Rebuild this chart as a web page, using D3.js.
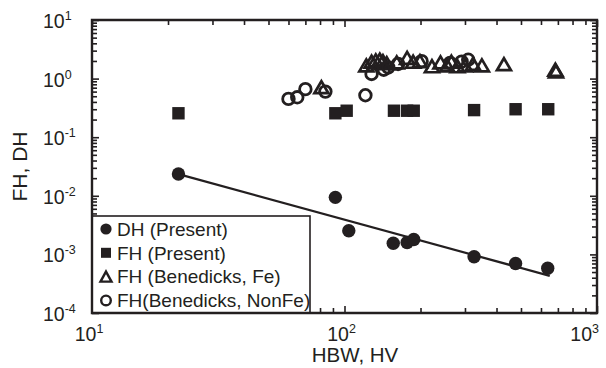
<!DOCTYPE html>
<html>
<head>
<meta charset="utf-8">
<script src="https://cdn.jsdelivr.net/npm/d3@7"></script>
<style>
  body { margin: 0; background: #fff; }
  svg { font-family: "Liberation Sans", Arial, sans-serif; }
</style>
</head>
<body>
<svg id="chart" width="606" height="368"></svg>
<script>
// Hardness (HBW, HV) vs FH / DH, log-log

// --- Data ---
const dhHBW = [22, 92, 104, 156, 177, 188, 326, 476, 638];
const dhVal = [0.0236, 0.0094, 0.00254, 0.00155, 0.0016, 0.0018, 0.00091, 0.0007, 0.00058];

const fhHBW = [22, 92, 102, 157, 177, 188, 326, 476, 641];
const fhVal = [0.256, 0.256, 0.283, 0.283, 0.283, 0.283, 0.29, 0.30, 0.30];

const feHBW = [81, 122, 128, 133, 138, 142, 147, 161, 177, 187, 199, 222, 240, 255, 265, 280, 300, 323, 350, 428, 684, 688];
const feVal = [0.68, 1.6, 1.85, 1.95, 2.0, 1.9, 1.75, 1.8, 2.15, 1.85, 1.9, 1.55, 1.8, 1.6, 1.85, 1.55, 1.6, 1.7, 1.6, 1.68, 1.35, 1.27];

const nonFeHBW = [60, 65, 70, 84, 121, 128, 143, 149, 163, 202, 262, 291, 309];
const nonFeVal = [0.45, 0.48, 0.66, 0.6, 0.52, 1.2, 1.42, 1.55, 1.78, 1.98, 1.85, 1.95, 2.1];

// power-law fit through DH (Present)
const fitHBW = [22, 650];
const fitVal = [0.0234, 0.00043];

const xMajor = [10, 100, 1000];
const yMajor = [10, 1, 0.1, 0.01, 0.001, 0.0001];
const xLabels = ["1", "2", "3"];
const yLabels = ["1", "0", "-1", "-2", "-3", "-4"];

const legendLabels = ["DH (Present)", "FH (Present)", "FH (Benedicks, Fe)", "FH(Benedicks, NonFe)"];

// --- Setup ---
const ink = "#231f20";
const svg = d3.select("#chart");
const pLeft = 92, pRight = 597, pTop = 20, pBottom = 313;

const x = d3.scaleLog().domain([10, 1000]).range([pLeft, pRight]);
const y = d3.scaleLog().domain([0.0001, 10]).range([pBottom, pTop]);

// minor ticks: every integer multiple inside each decade
function minorTicks(lo, hi) {
  const out = [];
  for (let d = lo; d < hi; d *= 10) {
    for (let k = 2; k <= 9; k++) out.push(d * k);
  }
  return out;
}
const xMinor = minorTicks(10, 1000);
const yMinor = minorTicks(0.0001, 10);

function tickAxis(axisFn, scale, values, size, transform) {
  const g = svg.append("g")
    .attr("transform", transform)
    .call(axisFn(scale).tickValues(values).tickSize(-size).tickFormat("").tickSizeOuter(0));
  g.select(".domain").remove();
  g.selectAll(".tick line").attr("stroke", ink).attr("stroke-width", 1.6);
}

tickAxis(d3.axisBottom, x, xMinor, 5, `translate(0,${pBottom})`);
tickAxis(d3.axisBottom, x, xMajor, 7, `translate(0,${pBottom})`);
tickAxis(d3.axisTop, x, xMinor, 5, `translate(0,${pTop})`);
tickAxis(d3.axisTop, x, xMajor, 7, `translate(0,${pTop})`);
tickAxis(d3.axisLeft, y, yMinor, 5, `translate(${pLeft},0)`);
tickAxis(d3.axisLeft, y, yMajor, 7, `translate(${pLeft},0)`);
tickAxis(d3.axisRight, y, yMinor, 5, `translate(${pRight},0)`);
tickAxis(d3.axisRight, y, yMajor, 7, `translate(${pRight},0)`);

// --- Marks ---
const plot = svg.append("g");

function triPath(cx, cy, w, h) {
  return `M${cx},${cy - h * 0.6}L${cx + w / 2},${cy + h * 0.4}L${cx - w / 2},${cy + h * 0.4}Z`;
}

plot.selectAll(".fe").data(d3.zip(feHBW, feVal)).enter().append("path")
  .attr("class", "fe")
  .attr("d", d => triPath(x(d[0]), y(d[1]), 14, 12))
  .attr("fill", "none").attr("stroke", ink).attr("stroke-width", 2.7)
  .attr("stroke-linejoin", "miter");

plot.selectAll(".nonfe").data(d3.zip(nonFeHBW, nonFeVal)).enter().append("circle")
  .attr("class", "nonfe")
  .attr("cx", d => x(d[0])).attr("cy", d => y(d[1])).attr("r", 5.8)
  .attr("fill", "none").attr("stroke", ink).attr("stroke-width", 2.8);

plot.selectAll(".fh").data(d3.zip(fhHBW, fhVal)).enter().append("rect")
  .attr("class", "fh")
  .attr("x", d => x(d[0]) - 6.2).attr("y", d => y(d[1]) - 6.2)
  .attr("width", 12.4).attr("height", 12.4)
  .attr("fill", ink);

plot.append("path")
  .datum(d3.zip(fitHBW, fitVal))
  .attr("d", d3.line().x(d => x(d[0])).y(d => y(d[1])))
  .attr("fill", "none").attr("stroke", ink).attr("stroke-width", 2.2);

plot.selectAll(".dh").data(d3.zip(dhHBW, dhVal)).enter().append("circle")
  .attr("class", "dh")
  .attr("cx", d => x(d[0])).attr("cy", d => y(d[1])).attr("r", 6.7)
  .attr("fill", ink);

// --- Legend ---
const lg = svg.append("g");
lg.append("rect")
  .attr("x", pLeft).attr("y", 216).attr("width", 218).attr("height", pBottom - 216)
  .attr("fill", "#fff").attr("stroke", ink).attr("stroke-width", 1.6);

const rowY = i => 229 + i * 23.8;
const mx = 106;
lg.append("circle").attr("cx", mx).attr("cy", rowY(0)).attr("r", 5.6).attr("fill", ink);
lg.append("rect").attr("x", mx - 5).attr("y", rowY(1) - 5).attr("width", 10).attr("height", 10).attr("fill", ink);
lg.append("path").attr("d", triPath(mx, rowY(2) + 1, 11, 10))
  .attr("fill", "none").attr("stroke", ink).attr("stroke-width", 2.4);
lg.append("circle").attr("cx", mx).attr("cy", rowY(3)).attr("r", 4.8)
  .attr("fill", "none").attr("stroke", ink).attr("stroke-width", 2.4);

lg.selectAll("text").data(legendLabels).enter().append("text")
  .attr("x", 117).attr("y", (d, i) => rowY(i) + 6.8)
  .attr("font-size", 19).attr("fill", ink)
  .text(d => d);

// --- Frame ---
svg.append("path")
  .attr("d", `M${pLeft},${pTop}H${pRight}V${pBottom}H${pLeft}Z`)
  .attr("fill", "none").attr("stroke", ink).attr("stroke-width", 2.4);

// --- Tick labels ---
function powLabel(g, base, exp) {
  g.append("tspan").text(base);
  g.append("tspan").attr("font-size", 12.5).attr("dy", -8).text(exp);
}

xMajor.forEach((v, i) => {
  const last = i === xMajor.length - 1;
  const t = svg.append("text")
    .attr("x", last ? 599 : x(v) - 3).attr("y", 340.5)
    .attr("text-anchor", last ? "end" : "middle")
    .attr("font-size", 19.5).attr("fill", ink);
  powLabel(t, "10", xLabels[i]);
});

yMajor.forEach((v, i) => {
  const t = svg.append("text")
    .attr("x", 43).attr("y", y(v) + 8)
    .attr("font-size", 19.5).attr("fill", ink);
  powLabel(t, "10", yLabels[i]);
});

// --- Axis titles ---
svg.append("text")
  .attr("x", 355).attr("y", 362)
  .attr("text-anchor", "middle").attr("font-size", 20.5).attr("fill", ink)
  .text("HBW, HV");

svg.append("text")
  .attr("transform", `translate(27,${(pTop + pBottom) / 2}) rotate(-90)`)
  .attr("text-anchor", "middle").attr("font-size", 21).attr("fill", ink)
  .text("FH, DH");
</script>
</body>
</html>
